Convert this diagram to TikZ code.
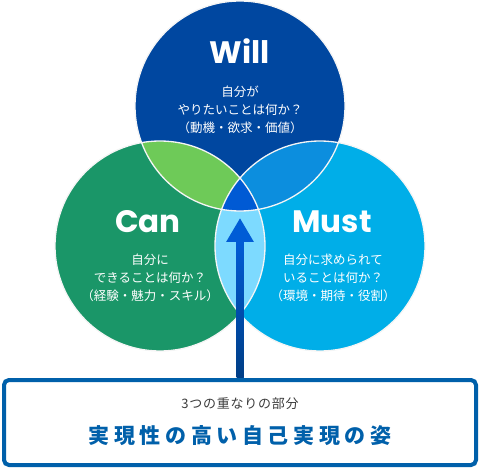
\documentclass[tikz,border=0pt]{standalone}
\usepackage{fontspec}
\usetikzlibrary{arrows.meta,calc}
\newfontfamily\jpfont{Noto Sans CJK JP}
\newfontfamily\titlefont{Poppins}
\definecolor{willc}{RGB}{0,71,160}
\definecolor{canc}{RGB}{26,150,104}
\definecolor{mustc}{RGB}{0,174,232}
\definecolor{wcc}{RGB}{110,202,88}
\definecolor{wmc}{RGB}{12,142,222}
\definecolor{cmc}{RGB}{125,218,255}
\definecolor{allc}{RGB}{0,90,212}
\definecolor{arrowtop}{RGB}{0,92,214}
\definecolor{arrowbot}{RGB}{0,62,134}
\definecolor{boxc}{RGB}{0,96,170}
\definecolor{subc}{RGB}{60,60,60}
\tikzset{
  title/.style={text=white,font=\titlefont\bfseries\fontsize{31}{31}\selectfont},
  desc/.style={text=white,align=center,inner sep=0,font=\jpfont\fontsize{12.5}{18}\selectfont},
  goalbox/.style={draw=boxc,line width=4pt,rounded corners=5pt,fill=white,
    minimum width=472pt,minimum height=85pt,inner sep=0},
}
\begin{document}
\begin{tikzpicture}[x=1pt,y=-1pt]
\useasboundingbox (0,0) rectangle (480,468);
% circles
\fill[willc] (240,106) circle (105);
\fill[canc] (160,246) circle (105);
\fill[mustc] (320,246) circle (105);
% overlaps
\begin{scope}
  \clip (240,106) circle (105);
  \fill[wcc] (160,246) circle (105);
  \fill[wmc] (320,246) circle (105);
\end{scope}
\begin{scope}
  \clip (160,246) circle (105);
  \fill[cmc] (320,246) circle (105);
  \clip (240,106) circle (105);
  \fill[allc] (320,246) circle (105);
\end{scope}
\draw[white!92!gray,line width=1.3pt] (240,106) circle (105) (160,246) circle (105)
  (320,246) circle (105);
% texts
\path (240,51) node[title](will){Will}
      (240,110) node[desc](willtxt){自分が\\やりたいことは何か？\\（動機・欲求・価値）}
      (148,222) node[title](can){Can}
      (150,278) node[desc](cantxt){自分に\\できることは何か？\\（経験・魅力・スキル）}
      (332,222) node[title](must){Must}
      (333,278) node[desc](musttxt){自分に求められて\\いることは何か？\\（環境・期待・役割）};
% goal
\path (240,422.5) node[goalbox](goal){}
      (240,404) node[text=subc,font=\jpfont\fontsize{13}{13}\selectfont\addfontfeatures{LetterSpace=6}](sub){3つの重なりの部分}
      (240,436) node[text=boxc,font=\jpfont\bfseries\fontsize{21}{21}\selectfont\addfontfeatures{LetterSpace=22}](res){実現性の高い自己実現の姿};
\coordinate (tip) at (240,218);
\draw[arrowtop,line width=7pt,-{Triangle[width=26pt,length=24pt]}] (goal.north) -- (tip);
\shade[top color=arrowtop,bottom color=arrowbot]
  ($(tip)+(-3.5,23)$) rectangle ($(goal.north)+(3.5,-1)$);
\end{tikzpicture}
\end{document}
